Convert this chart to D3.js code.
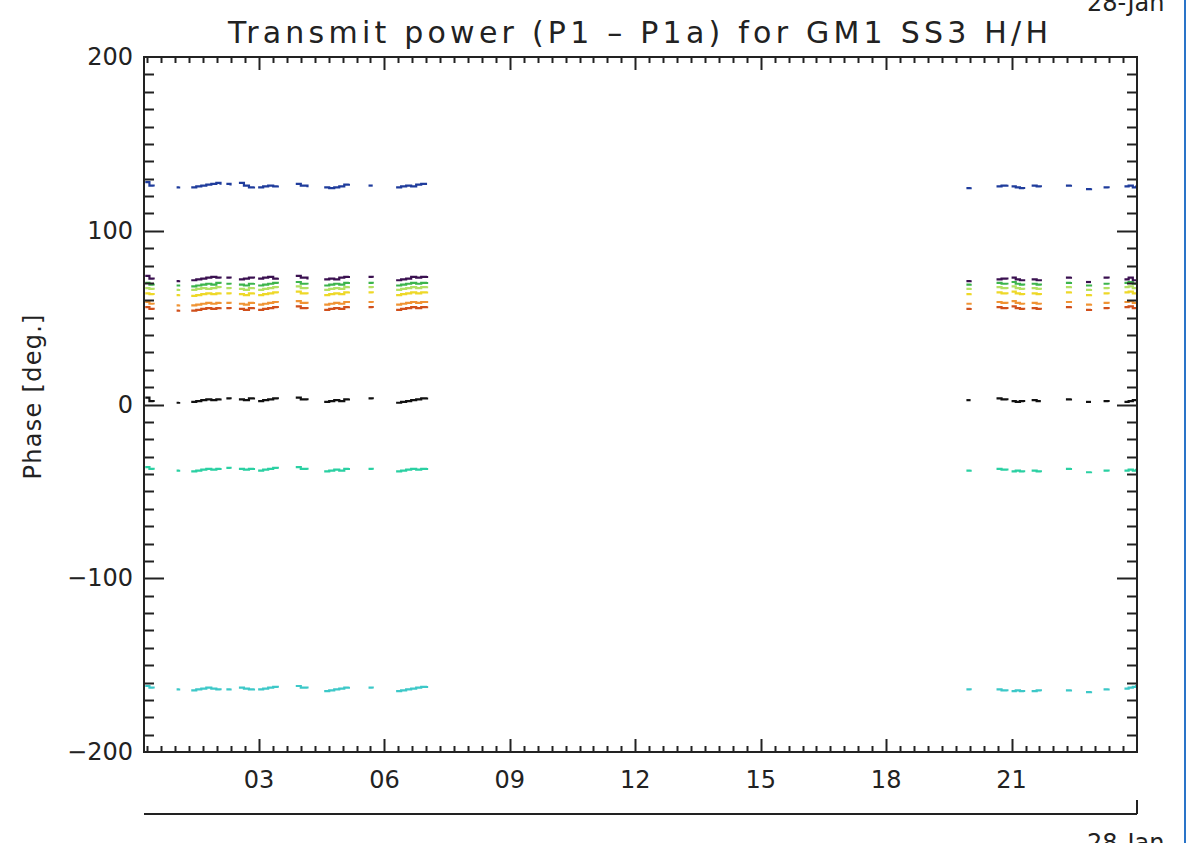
<!DOCTYPE html>
<html>
<head>
<meta charset="utf-8">
<script src="https://cdn.jsdelivr.net/npm/d3@7"></script>
<style>
  html, body { margin: 0; padding: 0; background: #fff; }
  svg { display: block; }
  text { font-family: "DejaVu Sans", sans-serif; fill: #222; }
</style>
</head>
<body>
<svg id="chart" width="1192" height="843"></svg>
<script>
// ---------------- DATA ----------------
const titleText = "Transmit power (P1 \u2013 P1a) for GM1 SS3 H/H";
const yLabelText = "Phase [deg.]";
const dateText = "28-Jan";
const xTickLabels = ["03", "06", "09", "12", "15", "18", "21"];
const xTickHours = [3, 6, 9, 12, 15, 18, 21];
const yTickLabels = ["\u2212200", "\u2212100", "0", "100", "200"];
const yTickValues = [-200, -100, 0, 100, 200];

// sample times (hours of day), one array per contiguous cluster of points
const clusterTimes = [
  [0.28, 0.38, 0.48],
  [1.03, 1.09],
  [1.38, 1.50, 1.62, 1.74, 1.86, 1.98, 2.08],
  [2.22, 2.32],
  [2.52, 2.64, 2.76, 2.88],
  [2.98, 3.10, 3.22, 3.34, 3.45],
  [3.88, 4.00, 4.16],
  [4.56, 4.68, 4.80, 4.92, 5.04, 5.15],
  [5.62, 5.72],
  [6.28, 6.40, 6.52, 6.64, 6.76, 6.88, 7.02],
  [19.92, 20.02],
  [20.64, 20.76, 20.90],
  [21.00, 21.10, 21.20, 21.30],
  [21.48, 21.60, 21.70],
  [22.30, 22.42],
  [22.78, 22.90],
  [23.20, 23.32],
  [23.70, 23.80, 23.90, 23.98]
];

const seriesBlue = [
  [128,126,125.5],[125,125.5],[125,125.5,126,126.5,127,127.5,126.5],[127,126],
  [127.5,126,125,125.5],[125,125.5,126,125.5,126],[127,126,125],
  [125,124.5,125,125.5,126.5,127],[126,126],[125,125.5,126,125.5,126.5,127,127],
  [124.5,125],[125.5,126,126.5],[125.5,125,124.5,124],[126,125.5,125],
  [126,126.5],[124,124.5],[125,124.5],[125.5,126,125,126]
];
const seriesPurple = [
  [74,72.5,72],[71,71.5],[71.5,72,72.5,73,73.5,73,72.5],[73,72.5],
  [72,72.5,73,72.5],[72.5,73,73.5,72.5,73],[74,73,72],
  [72,72.5,72,73,73.5,74],[73.5,73],[71.5,72,72.5,73.5,73,73.5,74],
  [71,71.5],[72,72.5,72],[73,72,71.5,71],[72,71.5,71],
  [73,73.5],[70.5,70.5],[73,72.5],[72,73,71.5,72]
];
const seriesGreen = [
  [70,69,68.5],[68.5,69],[68,68.5,69,69.5,69,70,69.5],[69.5,69],
  [69,68.5,69.5,70],[68.5,69,69.5,70,69.5],[70.5,69.5,69],
  [68.5,69,69.5,69,70,70.5],[70,69.5],[68.5,69,69.5,70,69.5,70,70.5],
  [69,69.5],[70,69.5,69],[70.5,69.5,69,68.5],[69.5,69,68.5],
  [70,70.5],[68.5,69],[69.5,69],[70,70.5,69.5,70]
];
const seriesLime = [
  [67,66.5,66],[66,66.5],[66,66.5,67,66.5,67,67.5,67],[67,66.5],
  [66.5,66,67,67.5],[66,66.5,67,67.5,67],[68,67,66.5],
  [66,66.5,67,66.5,67.5,68],[67.5,67],[66,66.5,67,67.5,67,67.5,68],
  [66.5,67],[67.5,67,66.5],[68,67,66.5,66],[67,66.5,66],
  [67.5,68],[66,66.5],[67,66.5],[67.5,68,67,67.5]
];
const seriesYellow = [
  [64,63.5,63],[63,63.5],[62.5,63,63.5,64,63.5,64,64.5],[64,63.5],
  [63.5,63,64,64.5],[63,63.5,64,64.5,64],[65,64,63.5],
  [63,63.5,64,63.5,64.5,65],[64.5,64],[63,63.5,64,64.5,64,64.5,65],
  [63.5,64],[64.5,64,63.5],[65,64,63.5,63],[64,63.5,63],
  [64.5,65],[63,63.5],[64,63.5],[64.5,65,64,64.5]
];
const seriesOrange = [
  [59,58,57.5],[57,57.5],[57,57.5,58,58.5,58,58.5,59],[58.5,58],
  [58,57.5,58.5,59],[57.5,58,58.5,59,58.5],[59.5,58.5,58],
  [57.5,58,58.5,58,59,59.5],[59,58.5],[57.5,58,58.5,59,58.5,59,59.5],
  [58,58.5],[59,58.5,58],[59.5,58.5,58,57.5],[58.5,58,57.5],
  [59,59.5],[57.5,58],[58.5,58],[59,59.5,58.5,59]
];
const seriesRed = [
  [56,55,54.5],[54,54.5],[54,54.5,55,55.5,55,55.5,56],[55.5,55],
  [55,54.5,55.5,56],[54.5,55,55.5,56,55.5],[56.5,55.5,55],
  [54.5,55,55.5,55,56,56.5],[56,55.5],[54.5,55,55.5,56,55.5,56,56.5],
  [55,55.5],[56,55.5,55],[56.5,55.5,55,54.5],[55.5,55,54.5],
  [56,56.5],[54.5,55],[55.5,55],[56,56.5,55.5,56]
];
const seriesBlack = [
  [4,2,1.5],[1,1.5],[1.5,2,2.5,3,2.5,3,3.5],[3.5,3],
  [3,2.5,3.5,4],[2,2.5,3,3.5,3],[4,3,2.5],
  [1.5,2,2.5,2,3,3.5],[3.5,3],[1,1.5,2,2.5,3,3.5,4],
  [2.5,2.5],[3.5,3,2.5],[2,1.5,2,1.5],[2.5,2,2],
  [3,3.5],[1.5,1.5],[2,1.5],[1.5,2,2.5,3]
];
const seriesAqua = [
  [-36,-37,-37.5],[-38,-37.5],[-38.5,-38,-37.5,-37,-37.5,-37,-36.5],[-36.5,-37],
  [-37,-37.5,-37,-36.5],[-38,-37.5,-37,-36.5,-37],[-36,-37,-37.5],
  [-38.5,-38,-37.5,-38,-37,-36.5],[-37,-37.5],[-38.5,-38,-37.5,-37,-37.5,-37,-36.5],
  [-38,-37.5],[-37,-37.5,-38],[-38.5,-38,-38.5,-39],[-38,-38.5,-39],
  [-37,-36.5],[-39,-38.5],[-38,-38.5],[-38,-37.5,-38,-37]
];
const seriesTeal = [
  [-162,-163,-163.5],[-164,-163.5],[-164.5,-164,-163.5,-163,-163.5,-164,-164.5],[-164,-163.5],
  [-163,-163.5,-164,-163.5],[-164,-163.5,-163,-162.5,-163],[-162,-163,-163.5],
  [-165,-164.5,-164,-163.5,-163,-162.5],[-163,-163.5],[-165,-164.5,-164,-163.5,-163,-162.5,-162],
  [-164,-164.5],[-164,-164.5,-165],[-165,-164.5,-165,-165.5],[-165,-164.5,-165],
  [-164.5,-164],[-165.5,-165],[-164,-163.5],[-163.5,-163,-162.5,-161.5]
];

const seriesList = [
  { values: seriesTeal,   color: "#3cc8c8" },
  { values: seriesAqua,   color: "#2ad0a2" },
  { values: seriesBlack,  color: "#111111" },
  { values: seriesRed,    color: "#d0501c" },
  { values: seriesOrange, color: "#f09434" },
  { values: seriesYellow, color: "#eed828" },
  { values: seriesLime,   color: "#b4e064" },
  { values: seriesGreen,  color: "#3cb44c" },
  { values: seriesPurple, color: "#3a1050" },
  { values: seriesBlue,   color: "#1f3c9c" }
];

// ---------------- CHART ----------------
const svg = d3.select("#chart");
const W = 1192, H = 843;
const L = 144, R = 1137, T = 57, B = 752;
const ink = "#222";

svg.append("rect").attr("width", W).attr("height", H).attr("fill", "#fff");

const x = d3.scaleLinear().domain([0.25, 24.0]).range([L, R]);
const y = d3.scaleLinear().domain([-200, 200]).range([B, T]);

// data
const plot = svg.append("g");
const line = d3.line().x(d => x(d[0])).y(d => y(d[1])).curve(d3.curveStepAfter);
seriesList.forEach(s => {
  s.values.forEach((vals, ci) => {
    const pts = clusterTimes[ci].map((t, i) => [t, vals[i]]);
    plot.append("path")
      .attr("d", line(pts))
      .attr("fill", "none")
      .attr("stroke", s.color)
      .attr("stroke-width", 2.2);
  });
});

// frame
const axes = svg.append("g").attr("stroke", ink).attr("stroke-width", 2).attr("fill", "none");
axes.append("rect").attr("x", L).attr("y", T).attr("width", R - L).attr("height", B - T);

// x ticks (minor every 20 min, major every 3 h)
const [x0, x1] = x.domain();
const minorX = d3.range(Math.ceil(x0 * 3), Math.floor(x1 * 3 - 0.001) + 1).map(k => k / 3);
minorX.forEach(h => {
  const isMajor = Math.abs(h / 3 - Math.round(h / 3)) < 1e-6;
  const len = isMajor ? 13 : 6;
  const px = Math.round(x(h)) + 0.5;
  axes.append("line").attr("x1", px).attr("x2", px).attr("y1", B).attr("y2", B - len);
  axes.append("line").attr("x1", px).attr("x2", px).attr("y1", T).attr("y2", T + len);
});

// y ticks (minor every 10 deg, major every 100)
d3.range(-190, 200, 10).forEach(v => {
  const isMajor = v % 100 === 0;
  const len = isMajor ? 20 : 10;
  const py = Math.round(y(v)) + 0.5;
  axes.append("line").attr("x1", L).attr("x2", L + len).attr("y1", py).attr("y2", py);
  axes.append("line").attr("x1", R).attr("x2", R - len).attr("y1", py).attr("y2", py);
});

// secondary date axis
axes.append("line").attr("x1", L).attr("x2", R).attr("y1", 814).attr("y2", 814);
axes.append("line").attr("x1", R).attr("x2", R).attr("y1", 814).attr("y2", 800);

// tick labels
const lab = svg.append("g").attr("font-size", 24);
xTickHours.forEach((h, i) => {
  lab.append("text").attr("x", x(h)).attr("y", 788)
    .attr("text-anchor", "middle").text(xTickLabels[i]);
});
yTickValues.forEach((v, i) => {
  lab.append("text").attr("x", 133).attr("y", y(v))
    .attr("text-anchor", "end").attr("dominant-baseline", "central").text(yTickLabels[i]);
});

// y label
svg.append("text")
  .attr("transform", "translate(41,397) rotate(-90)")
  .attr("text-anchor", "middle").attr("font-size", 24)
  .attr("textLength", 165).attr("lengthAdjust", "spacing")
  .text(yLabelText);

// title
svg.append("text")
  .attr("x", 638).attr("y", 43).attr("text-anchor", "middle")
  .attr("font-size", 30).attr("textLength", 820).attr("lengthAdjust", "spacing")
  .text(titleText);

// date labels clipped at the frame border
svg.append("clipPath").attr("id", "clipR")
  .append("rect").attr("x", 0).attr("y", 0).attr("width", 1184).attr("height", H);
const dates = svg.append("g").attr("clip-path", "url(#clipR)").attr("font-size", 24);
dates.append("text").attr("x", 1087).attr("y", 11).text(dateText);
dates.append("text").attr("x", 1087).attr("y", 851).text(dateText);

// blue border line
svg.append("line").attr("x1", 1185).attr("x2", 1185).attr("y1", 0).attr("y2", H)
  .attr("stroke", "#2a74c8").attr("stroke-width", 2);
</script>
</body>
</html>
